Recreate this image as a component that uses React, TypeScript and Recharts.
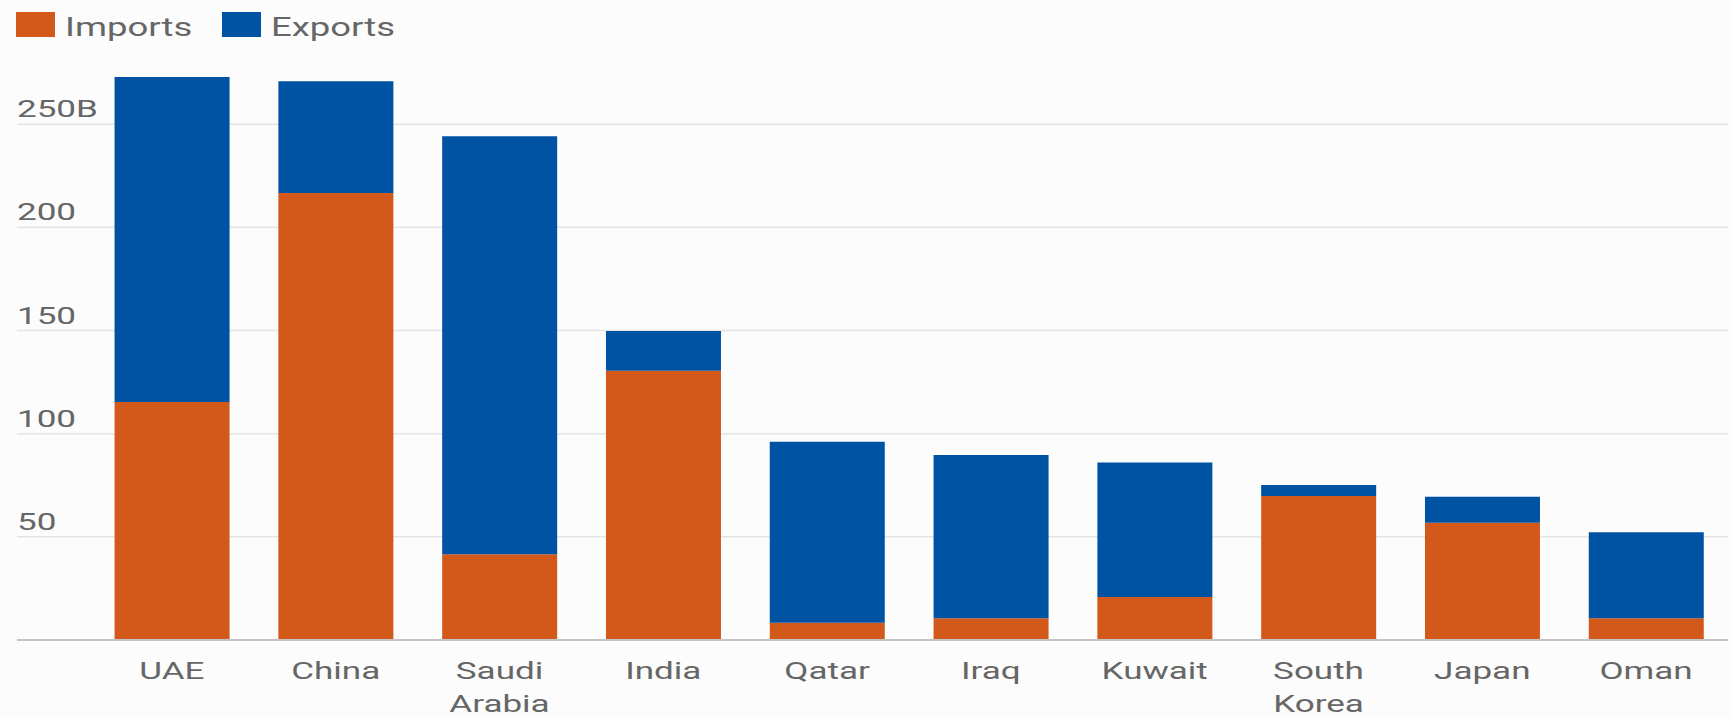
import React from "react";
import {
  BarChart,
  Bar,
  XAxis,
  YAxis,
  CartesianGrid,
  ReferenceLine,
} from "recharts";

const countries = [
  "UAE",
  "China",
  "Saudi Arabia",
  "India",
  "Qatar",
  "Iraq",
  "Kuwait",
  "South Korea",
  "Japan",
  "Oman",
];
const imports = [115.3, 216.6, 41.6, 130.5, 8.4, 10.6, 20.8, 69.8, 56.8, 10.5];
const exports = [157.5, 54.2, 202.6, 19.2, 87.7, 79.1, 65.2, 5.3, 12.6, 41.7];
const yTicks = [50, 100, 150, 200, 250];
const yTickLabels = ["50", "100", "150", "200", "250B"];
const seriesNames = ["Imports", "Exports"];

const ORANGE = "#D2591A";
const BLUE = "#0052A3";
const TEXT = "#666666";
const FONT = "Roboto, 'Noto Sans', sans-serif";
const STRETCH = 1.46;

const data = countries.map((c, i) => ({
  country: c,
  imports: imports[i],
  exports: exports[i],
}));

const XTick = (props: any) => {
  const { x, y, payload } = props;
  const words = String(payload.value).split(" ");
  return (
    <g>
      {words.map((w: string, i: number) => (
        <text
          key={i}
          transform={`translate(${x},${y + 31 + i * 33}) scale(${STRETCH},1)`}
          textAnchor="middle"
          fill={TEXT}
          fontSize={24}
          fontFamily={FONT}
        >
          {w}
        </text>
      ))}
    </g>
  );
};

const YTick = (props: any) => {
  const { y, payload } = props;
  const idx = yTicks.indexOf(payload.value);
  const label = idx >= 0 ? yTickLabels[idx] : String(payload.value);
  return (
    <text
      transform={`translate(17,${y - 7}) scale(${STRETCH},1)`}
      textAnchor="start"
      fill={TEXT}
      fontSize={24}
      fontFamily={FONT}
    >
      {label}
    </text>
  );
};

const LegendBox = () => (
  <svg
    width={420}
    height={50}
    style={{ position: "absolute", left: 0, top: 0, display: "block" }}
  >
    <rect x={16} y={12} width={39} height={25} fill={ORANGE} />
    <text
      transform={`translate(65,36) scale(${STRETCH},1)`}
      fill={TEXT}
      fontSize={25}
      fontFamily={FONT}
    >
      {seriesNames[0]}
    </text>
    <rect x={222} y={12} width={39} height={25} fill={BLUE} />
    <text
      transform={`translate(271,36) scale(${STRETCH},1)`}
      fill={TEXT}
      fontSize={25}
      fontFamily={FONT}
    >
      {seriesNames[1]}
    </text>
  </svg>
);

export default function App() {
  return (
    <div
      style={{
        position: "absolute",
        left: 0,
        top: 0,
        width: 1731,
        height: 718,
        background: "#fcfcfc",
      }}
    >
      <BarChart
        width={1731}
        height={718}
        data={data}
        margin={{ top: 21, right: 3, bottom: 0, left: 16 }}
        barCategoryGap="15%"
      >
        <CartesianGrid
          vertical={false}
          horizontalValues={yTicks}
          stroke="#e4e4e4"
          strokeWidth={1.5}
        />
        <XAxis
          dataKey="country"
          axisLine={false}
          tickLine={false}
          height={78}
          interval={0}
          padding={{ left: 73, right: 0 }}
          tick={(p: any) => <XTick {...p} />}
        />
        <YAxis
          width={1}
          domain={[0, 300]}
          ticks={yTicks}
          interval={0}
          axisLine={false}
          tickLine={false}
          tick={(p: any) => <YTick {...p} />}
        />
        <Bar
          dataKey="imports"
          name={seriesNames[0]}
          stackId="a"
          fill={ORANGE}
          isAnimationActive={false}
        />
        <Bar
          dataKey="exports"
          name={seriesNames[1]}
          stackId="a"
          fill={BLUE}
          isAnimationActive={false}
        />
        <ReferenceLine y={0} stroke="#c4c4c4" strokeWidth={2} />
      </BarChart>
      <LegendBox />
    </div>
  );
}
